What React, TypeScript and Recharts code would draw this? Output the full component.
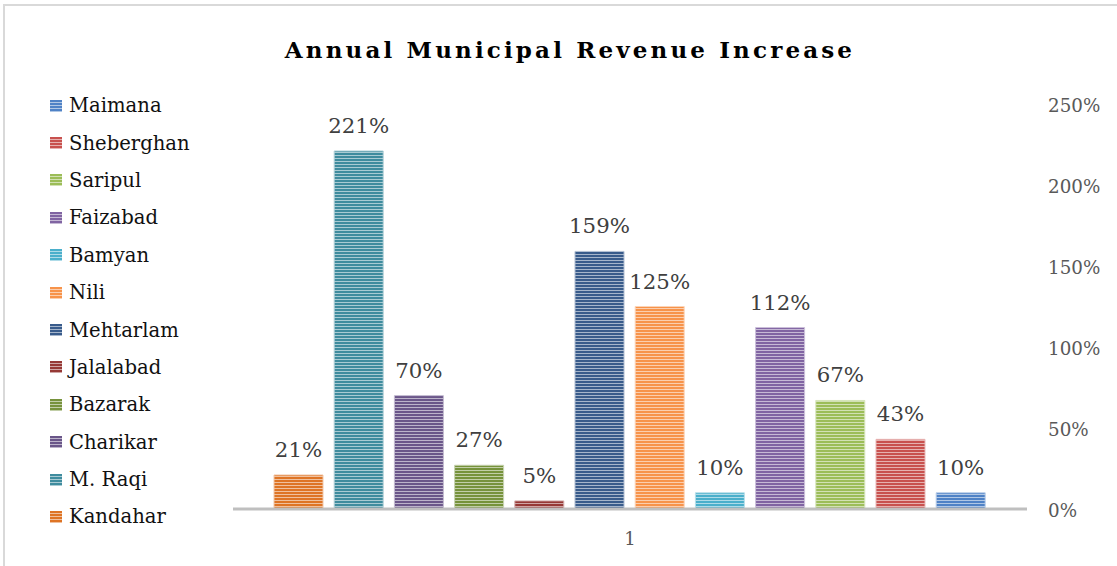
import React from "react";
import { BarChart, Bar, XAxis, YAxis, LabelList } from "recharts";

const categories = ["1"];
const seriesNames = [
  "Kandahar", "M. Raqi", "Charikar", "Bazarak", "Jalalabad", "Mehtarlam",
  "Nili", "Bamyan", "Faizabad", "Saripul", "Sheberghan", "Maimana",
];
const seriesValues = [21, 221, 70, 27, 5, 159, 125, 10, 112, 67, 43, 10];
const seriesColors = [
  "#DE7425", "#3F8C9E", "#6A5689", "#76923B", "#963936", "#385B8B",
  "#F7934A", "#4AAFCB", "#8064A2", "#9CBD58", "#C8514E", "#4F82C6",
];
const yTicks = [0, 50, 100, 150, 200, 250];

const data = categories.map((c) => {
  const row: Record<string, number | string> = { name: c };
  seriesNames.forEach((s, i) => {
    row[s] = seriesValues[i];
  });
  return row;
});

const lighten = (hex: string, t: number) => {
  const n = parseInt(hex.slice(1), 16);
  const r = (n >> 16) & 255, g = (n >> 8) & 255, b = n & 255;
  const f = (v: number) => Math.round(v + (255 - v) * t);
  return `rgb(${f(r)},${f(g)},${f(b)})`;
};

const Patterns = () => (
  <svg width={0} height={0} style={{ position: "absolute" }}>
    <defs>
      {seriesColors.map((c, i) => (
        <pattern key={i} id={`stripe${i}`} width={4} height={3} patternUnits="userSpaceOnUse">
          <rect x={0} y={0} width={4} height={3} fill={lighten(c, 0.55)} />
          <rect x={0} y={0} width={4} height={2} fill={c} />
        </pattern>
      ))}
    </defs>
  </svg>
);

const LegendBox = () => {
  const items = seriesNames.map((n, i) => ({ n, i })).reverse();
  return (
    <div style={{ position: "absolute", left: 50, top: 87, fontFamily: "DejaVu Serif", fontSize: 19.6, color: "#111" }}>
      {items.map(({ n, i }) => (
        <div key={n} style={{ display: "flex", alignItems: "center", height: 37.4 }}>
          <svg width={12} height={12} style={{ marginRight: 7 }}>
            <rect x={0} y={0} width={12} height={12} fill={`url(#stripe${i})`} />
          </svg>
          <span>{n}</span>
        </div>
      ))}
    </div>
  );
};

export default function App() {
  return (
    <div style={{ position: "absolute", left: 0, top: 0, width: 1117, height: 566, overflow: "hidden", background: "#fff" }}>
      <Patterns />
      <div style={{ position: "absolute", left: 3, top: 4, width: 1200, height: 700, borderLeft: "2px solid #D9D9D9", borderTop: "2px solid #D9D9D9" }} />
      <div style={{ position: "absolute", left: 1, top: 36, width: 1138, textAlign: "center", fontFamily: "DejaVu Serif", fontWeight: "bold", fontSize: 23, letterSpacing: 3.15, color: "#000" }}>
        Annual Municipal Revenue Increase
      </div>
      <LegendBox />
      <div style={{ position: "absolute", left: 0, top: 0 }}>
        <BarChart width={1117} height={566} data={data} margin={{ top: 104, right: 0, left: 233, bottom: 17 }} barGap={11.2} barSize={49}>
          <XAxis dataKey="name" axisLine={{ stroke: "#BFBFBF", strokeWidth: 3 }} tickLine={false} tickMargin={17} height={40}
            tick={{ fill: "#595959", fontFamily: "DejaVu Serif", fontSize: 18 }} />
          <YAxis orientation="right" domain={[0, 250]} ticks={yTicks} width={90} axisLine={false} tickLine={false} tickMargin={15}
            tickFormatter={(v: number) => `${v}%`} tick={{ fill: "#595959", fontFamily: "DejaVu Serif", fontSize: 18.3, textAnchor: "start", dy: 2 }} />
          {seriesNames.map((s, i) => (
            <Bar key={s} dataKey={s} fill={`url(#stripe${i})`} stroke={lighten(seriesColors[i], 0.6)} strokeWidth={1} isAnimationActive={false}>
              <LabelList dataKey={s} position="top" offset={18} formatter={(v: number) => `${v}%`}
                style={{ fill: "#404040", fontFamily: "DejaVu Serif", fontSize: 21.3 }} />
            </Bar>
          ))}
        </BarChart>
      </div>
    </div>
  );
}
